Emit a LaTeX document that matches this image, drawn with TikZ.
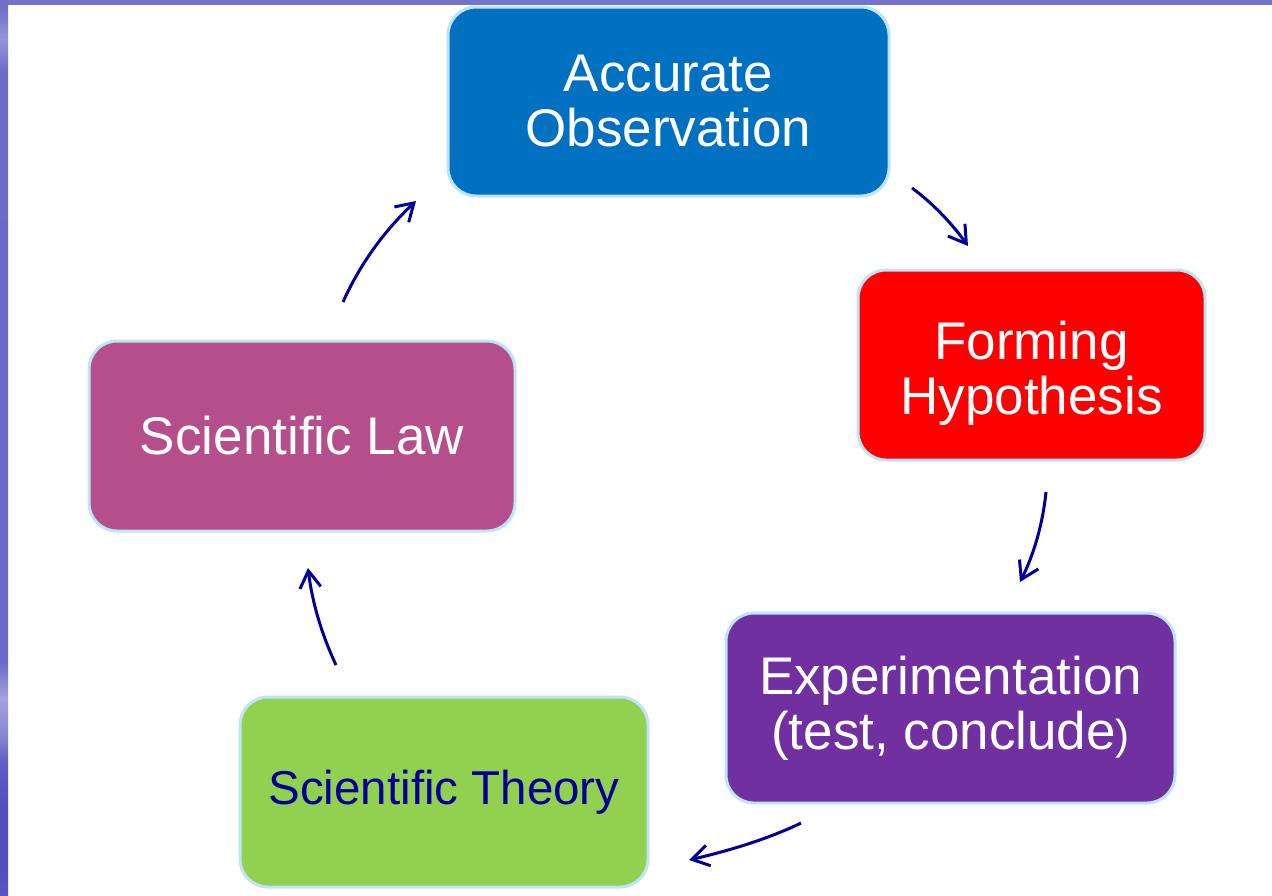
\documentclass[tikz,border=0pt]{standalone}
\usepackage{fontspec}
\setmainfont{Liberation Sans}
\usetikzlibrary{arrows.meta}
\definecolor{obsblue}{HTML}{0070C0}
\definecolor{hypred}{HTML}{FF0000}
\definecolor{exppurple}{HTML}{7030A0}
\definecolor{theorygreen}{HTML}{92D050}
\definecolor{lawpink}{HTML}{B44F8B}
\definecolor{boxedge}{HTML}{BDE5F8}
\definecolor{arrowblue}{HTML}{000099}
\definecolor{topbar}{HTML}{7474CA}
\definecolor{barA}{HTML}{5454C2}
\definecolor{barB}{HTML}{4F4FC0}
\definecolor{barC}{HTML}{6060C6}
\definecolor{barD}{HTML}{A3A3DD}
\definecolor{barE}{HTML}{8888D3}
\definecolor{barF}{HTML}{6A6ACA}
\definecolor{barG}{HTML}{6C6CC9}
\definecolor{barH}{HTML}{9595D8}
\definecolor{barI}{HTML}{7070C8}
\pgfdeclareverticalshading{leftbarshade}{100bp}{
  color(0bp)=(barA);
  color(25bp)=(barA);
  color(27bp)=(barB);
  color(30bp)=(barB);
  color(32.5bp)=(barC);
  color(34bp)=(barE);
  color(36bp)=(barD);
  color(38bp)=(barF);
  color(60bp)=(barF);
  color(71bp)=(barG);
  color(72.8bp)=(barH);
  color(74.5bp)=(barI);
  color(100bp)=(barI)}
\tikzset{
  stagebox/.style={rectangle, rounded corners=14pt, draw=boxedge, line width=1.5pt,
    text=white, align=center, inner sep=0pt,
    font=\fontsize{26.5pt}{27.5pt}\selectfont},
  cyclearrow/.style={draw=arrowblue, line width=1.5pt,
    -{Straight Barb[length=8.5pt,width=10.5pt,line width=1.5pt]}}
}
\begin{document}
\begin{tikzpicture}[x=0.5pt,y=-0.5pt]
\useasboundingbox (0,0) rectangle (1272,895);
\fill[white] (0,0) rectangle (1272,895);
% frame bars
\fill[topbar] (0,0) rectangle (1272,5);
\shade[shading=leftbarshade] (0,0) rectangle (8,895);
% stages
\node[stagebox, fill=obsblue, minimum width=220.5pt, minimum height=94.5pt]
  (obs) at (668.5,101.5) {Accurate\\Observation};
\node[stagebox, fill=hypred, minimum width=173.5pt, minimum height=95pt]
  (hyp) at (1031.5,365) {\\[-27.5pt]\rule{0pt}{3pt}\\Forming\\Hypothesis};
\node[stagebox, fill=exppurple, minimum width=224.5pt, minimum height=95pt]
  (exp) at (950.5,708) {Experimentation\\(test, conclude{\fontsize{21pt}{27.5pt}\selectfont )}};
\node[stagebox, fill=theorygreen, text=arrowblue, minimum width=204pt, minimum height=95pt,
  font=\fontsize{23.75pt}{27.5pt}\selectfont]
  (theory) at (444,792) {Scientific Theory};
\node[stagebox, fill=lawpink, minimum width=213pt, minimum height=95pt]
  (law) at (302,436) {Scientific Law};
% arrow end points
\coordinate (a1s) at (912,188);
\coordinate (a1e) at (968,246);
\coordinate (a2s) at (1046,492);
\coordinate (a2e) at (1020,582);
\coordinate (a3s) at (801,823);
\coordinate (a3e) at (689,860);
\coordinate (a4s) at (336,665);
\coordinate (a4e) at (308,568);
\coordinate (a5s) at (343,302);
\coordinate (a5e) at (416,201);
% arrows
\draw[cyclearrow] (a1s) .. controls (932,202.7) and (950.7,222) .. (a1e);
\draw[cyclearrow] (a2s) .. controls (1042.7,524) and (1034,554) .. (a2e);
\draw[cyclearrow] (a3s) .. controls (772.3,837) and (735,849.3) .. (a3e);
\draw[cyclearrow] (a4s) .. controls (321.3,633.7) and (312,601.3) .. (a4e);
\draw[cyclearrow] (a5s) .. controls (359.7,264.7) and (384,231) .. (a5e);
\end{tikzpicture}
\end{document}
